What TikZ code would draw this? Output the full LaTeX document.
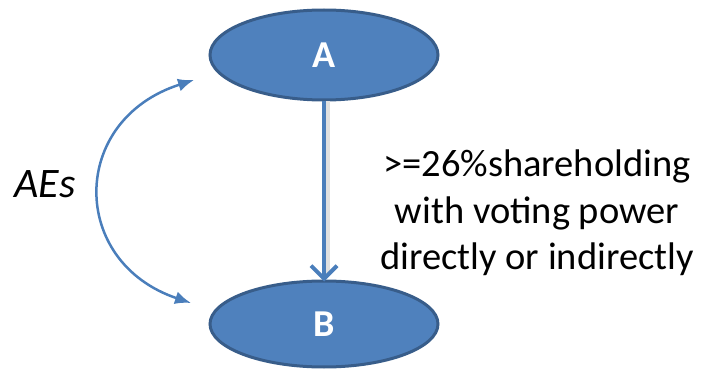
\documentclass[tikz,border=0pt]{standalone}
\usepackage{fontspec}
\setmainfont{Carlito}
\usepackage{tikz}
\usetikzlibrary{
  shapes.geometric,
  arrows.meta,
  positioning
}
\usepackage{xcolor}
\definecolor{entblue}  {RGB}{79, 129, 189}
\definecolor{entedge}  {RGB}{56,  93, 138}
\definecolor{linkblue} {RGB}{74, 126, 187}
\tikzset{
  entity/.style={
    ellipse, draw=entedge, fill=entblue, line width=3pt,
    minimum width=228pt, minimum height=#1,
    text=white, font=\fontsize{38}{44}\selectfont\bfseries
  },
  holdarrow/.style={
    draw=linkblue, line width=4.5pt,
    -{Straight Barb[length=13pt, width=26pt, line width=4pt]}
  },
  holdshadow/.style={
    draw=black!12, line width=5pt
  },
  aearrow/.style={
    draw=linkblue, line width=2.5pt,
    {Latex[length=16pt, width=13pt]}-{Latex[length=16pt, width=13pt]}
  },
  bigtext/.style={
    align=center, font=\fontsize{38.5}{46.5}\selectfont
  }
}

\begin{document}
\begin{tikzpicture}[x=1pt, y=1pt]
\useasboundingbox (0,0) rectangle (702,370);

% ── Entities ──────────────────────────────────────────────────────────────────
\node[entity=90pt] (A) at (324,315) {A};
\node[entity=86pt] (B) at (324,46)  {B};

% ── Shareholding arrow ────────────────────────────────────────────────────────
\draw[holdshadow] ([xshift=3pt]A.south) -- ([xshift=3pt, yshift=4pt]B.north);
\draw[holdarrow] (A.south) -- ([yshift=-2pt]B.north);

\node[bigtext] (rule) at (537,157) {
  >=26\%shareholding\\
  with voting power\\
  directly or indirectly
};

% ── AEs curve ─────────────────────────────────────────────────────────────────
\coordinate (aetop) at (194,290);
\coordinate (aebot) at (191,67);
\draw[aearrow] (aetop) .. controls (69,250) and (69,108) .. (aebot);

\node[font=\fontsize{42}{48}\selectfont\itshape] (aes) at (45,186) {AEs};

\end{tikzpicture}
\end{document}
